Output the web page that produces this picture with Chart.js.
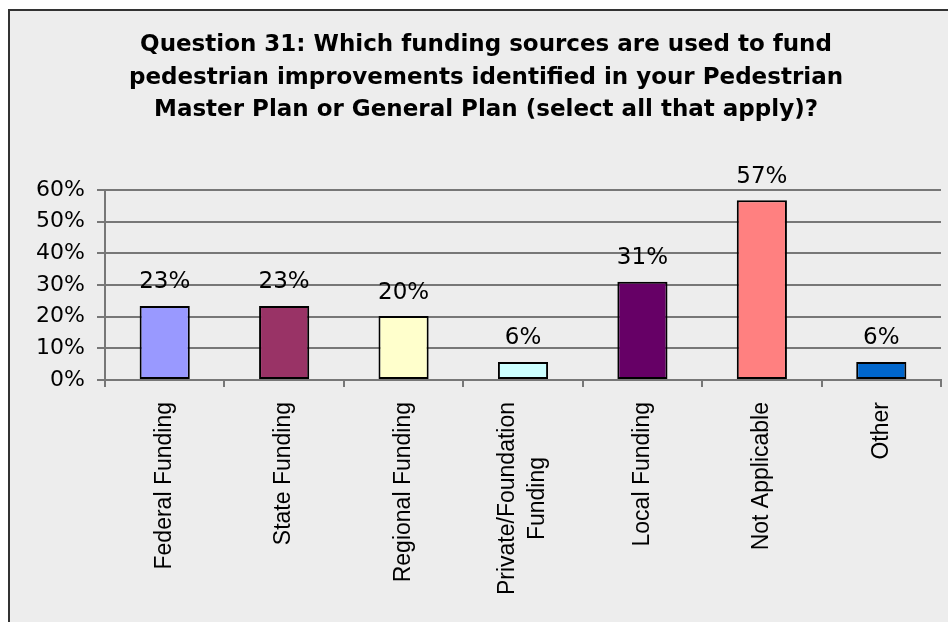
<!DOCTYPE html>
<html>
<head>
<meta charset="utf-8">
<script src="https://cdn.jsdelivr.net/npm/chart.js@4/dist/chart.umd.min.js"></script>
<style>
html, body { margin: 0; padding: 0; background: #fff; overflow: hidden; width: 948px; height: 622px; }
#frame { position: absolute; left: 8px; top: 9px; width: 1000px; height: 700px; border: 2px solid #333; background: #ededed; box-sizing: border-box; }
#chart { position: absolute; left: 0; top: 0; }
</style>
</head>
<body>
<div id="frame"></div>
<canvas id="chart" width="972" height="622"></canvas>
<script>
// data
const titleLines = [
    'Question 31: Which funding sources are used to fund',
    'pedestrian improvements identified in your Pedestrian',
    'Master Plan or General Plan (select all that apply)?'
];
const categories = [
    ['Federal Funding'],
    ['State Funding'],
    ['Regional Funding'],
    ['Private/Foundation', 'Funding'],
    ['Local Funding'],
    ['Not Applicable'],
    ['Other']
];
const percentages = [23.4, 23.4, 20.2, 5.7, 31.0, 56.8, 5.7];
const barColors = ['#9999FF', '#993366', '#FFFFCC', '#CCFFFF', '#660066', '#FF8080', '#0066CC'];
const yTicks = [0, 10, 20, 30, 40, 50, 60];

const gridGray = '#777777';

// value labels over the bars
const barValueLabels = {
    id: 'barValueLabels',
    afterDatasetsDraw(chart){
        const ctx = chart.ctx;
        const meta = chart.getDatasetMeta(0);
        ctx.save();
        ctx.font = '23px "DejaVu Sans"';
        ctx.fillStyle = '#000';
        ctx.textAlign = 'center';
        ctx.textBaseline = 'alphabetic';
        meta.data.forEach((bar, i) => {
            ctx.fillText(Math.round(percentages[i]) + '%', bar.x, bar.y - 17.5);
        });
        ctx.restore();
    }
};

// rotated category labels, lines centred on each other
const rotatedLabels = {
    id: 'rotatedLabels',
    afterDraw(chart){
        const ctx = chart.ctx;
        const xs = chart.scales.x;
        const lineH = 30;
        ctx.save();
        ctx.font = '23px "Liberation Sans"';
        ctx.fillStyle = '#000';
        ctx.textAlign = 'center';
        ctx.textBaseline = 'middle';
        categories.forEach((lines, i) => {
            const x = xs.getPixelForValue(i);
            const w = Math.max(...lines.map(l => ctx.measureText(l).width));
            ctx.save();
            ctx.translate(x, xs.top + 22);
            ctx.rotate(-Math.PI / 2);
            lines.forEach((l, k) => {
                ctx.fillText(l, -w / 2, (k - (lines.length - 1) / 2) * lineH);
            });
            ctx.restore();
        });
        ctx.restore();
    }
};

const canvas = document.getElementById('chart');
new Chart(canvas.getContext('2d'), {
    type: 'bar',
    data: {
        labels: categories,
        datasets: [{
            data: percentages,
            backgroundColor: barColors,
            borderColor: '#000',
            borderWidth: 2,
            borderSkipped: false,
            categoryPercentage: 1,
            barPercentage: 0.42
        }]
    },
    options: {
        responsive: false,
        animation: false,
        layout: { padding: { left: 31, right: 31, top: 0, bottom: 0 } },
        plugins: {
            legend: { display: false },
            tooltip: { enabled: false },
            title: {
                display: true,
                text: titleLines,
                color: '#000',
                font: { family: '"DejaVu Sans"', size: 23, weight: 'bold', lineHeight: '32.5px' },
                padding: { top: 29, bottom: 63.5 }
            }
        },
        scales: {
            x: {
                grid: { offset: true, drawOnChartArea: false, color: gridGray, lineWidth: 2, tickLength: 7 },
                border: { color: gridGray, width: 2 },
                ticks: { display: false },
                afterFit(scale){ scale.height = 242; }
            },
            y: {
                min: 0,
                max: 60,
                afterBuildTicks(scale){ scale.ticks = yTicks.map(v => ({ value: v })); },
                grid: { color: gridGray, lineWidth: 2, tickLength: 8 },
                border: { color: gridGray, width: 2 },
                ticks: {
                    color: '#000',
                    padding: 12,
                    font: { family: '"DejaVu Sans"', size: 22 },
                    callback: v => v + '%'
                },
                afterFit(scale){ scale.width = 74; }
            }
        }
    },
    plugins: [barValueLabels, rotatedLabels]
});
</script>
</body>
</html>
